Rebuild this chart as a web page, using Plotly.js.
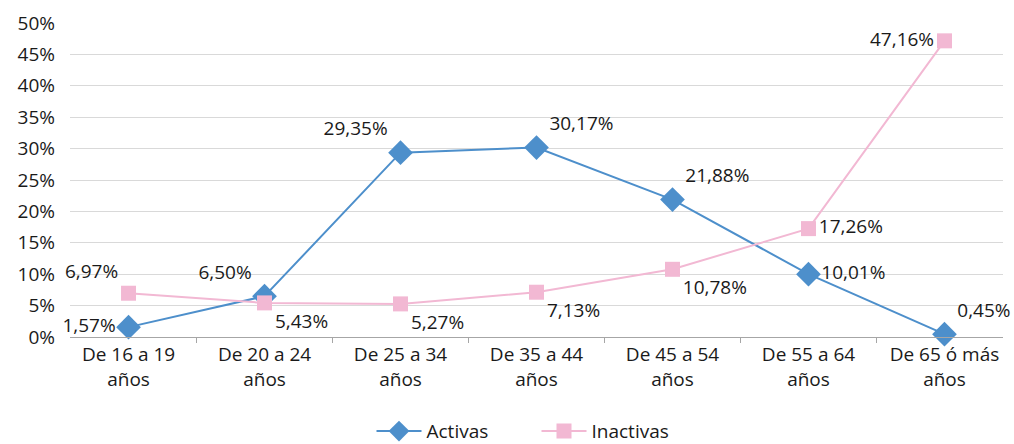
<!DOCTYPE html>
<html><head><meta charset="utf-8">
<script src="https://cdn.plot.ly/plotly-3.0.1.min.js"></script>
<style>html,body{margin:0;padding:0;background:#fff}#c{width:1014px;height:444px}</style>
</head><body><div id="c"></div>
<script>
const categories = ["De 16 a 19<br>años","De 20 a 24<br>años","De 25 a 34<br>años","De 35 a 44<br>años","De 45 a 54<br>años","De 55 a 64<br>años","De 65 ó más<br>años"];
const activas = [1.57, 6.50, 29.35, 30.17, 21.88, 10.01, 0.45];
const inactivas = [6.97, 5.43, 5.27, 7.13, 10.78, 17.26, 47.16];
const activasLabels = ["1,57%","6,50%","29,35%","30,17%","21,88%","10,01%","0,45%"];
const inactivasLabels = ["6,97%","5,43%","5,27%","7,13%","10,78%","17,26%","47,16%"];
const tf = {family:"Open Sans, Liberation Sans, sans-serif", size:19, color:"#1a1a1a"};
const traces = [
 {x:categories, y:activas, name:"Activas", type:"scatter", mode:"lines+markers+text",
  line:{color:"#4d8fcb", width:2}, marker:{symbol:"diamond", size:19, color:"#4d8fcb"},
  text:activasLabels, textfont:tf,
  textposition:["middle left","top left","top left","top right","top right","middle right","top right"], cliponaxis:false},
 {x:categories, y:inactivas, name:"Inactivas", type:"scatter", mode:"lines+markers+text",
  line:{color:"#f2b8d3", width:2}, marker:{symbol:"square", size:15, color:"#f2b8d3"},
  text:inactivasLabels, textfont:tf,
  textposition:["top left","bottom right","bottom right","bottom right","bottom right","middle right","middle left"], cliponaxis:false}
];
const layout = {
 width:1014, height:444, margin:{l:70, r:11, t:23, b:107, autoexpand:false},
 paper_bgcolor:"#fff", plot_bgcolor:"#fff",
 font:{family:"Open Sans, Liberation Sans, sans-serif", size:19, color:"#1a1a1a"},
 xaxis:{type:"category", automargin:false, showgrid:false, showline:true, linecolor:"#a6a6a6", linewidth:1,
   ticks:"outside", tickson:"boundaries", ticklen:5, tickcolor:"#a6a6a6", tickfont:{size:19}},
 yaxis:{range:[0,50], automargin:false, dtick:5, ticksuffix:"%", showgrid:true, gridcolor:"#d9d9d9", gridwidth:1,
   zeroline:false, showline:false, tickfont:{size:19}, ticks:"", ticklabelstandoff:14},
 legend:{orientation:"h", x:0.5, xanchor:"center", y:-0.30, yanchor:"middle", font:{size:19}, itemwidth:45, entrywidth:105},
 showlegend:true
};
Plotly.newPlot("c", traces, layout, {displayModeBar:false});
</script></body></html>
